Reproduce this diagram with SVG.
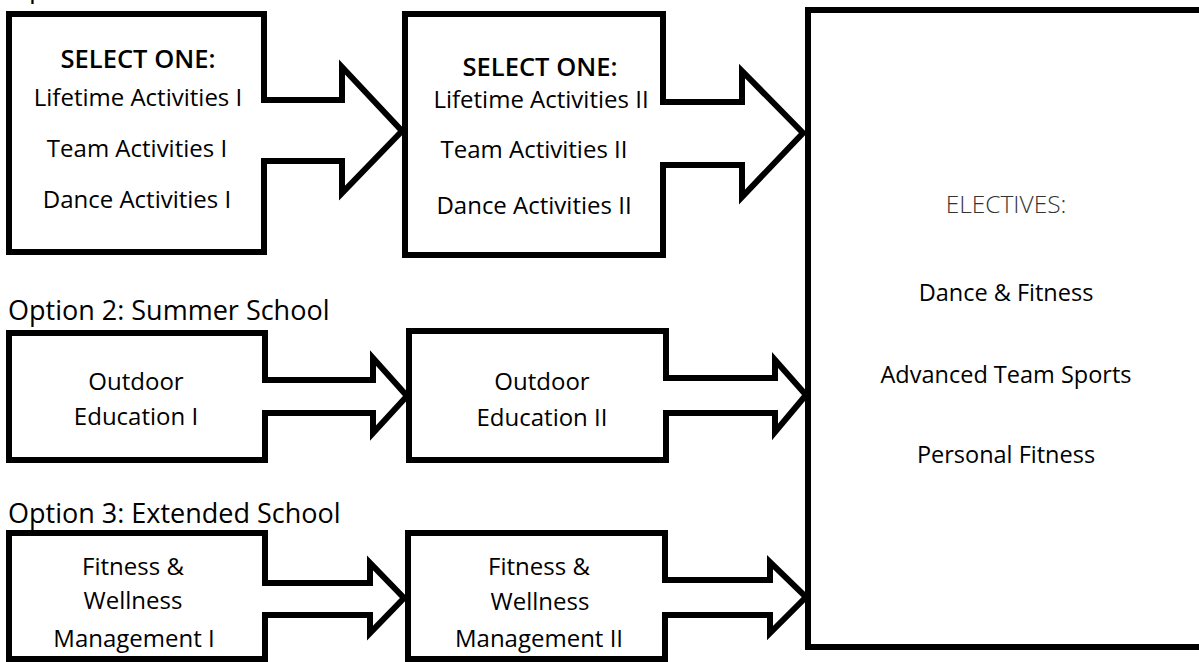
<svg xmlns="http://www.w3.org/2000/svg" width="1199" height="662" viewBox="0 0 1199 662">
<style>
.box{fill:#fff;stroke:#000;stroke-width:6}
.arr{fill:#fff;stroke:#000;stroke-width:6;stroke-linejoin:miter}
text{font-family:"Open Sans","Liberation Sans",sans-serif;font-size:24px;fill:#000;text-anchor:middle}
.lbl{font-size:27px;text-anchor:start}
.hd{font-weight:600;font-size:25.5px}
.el{font-weight:300;fill:#333;font-size:24.5px}
.it{font-size:23.5px}
</style>
<rect width="1199" height="662" fill="#fff"/>
<text class="lbl" x="8" y="-3">Option 1:</text>
<text class="lbl" x="8" y="320">Option 2: Summer School</text>
<text class="lbl" x="8" y="523">Option 3: Extended School</text>

<g id="n1">
<rect class="box" x="9" y="14" width="255" height="238"/>
<text class="hd" x="138" y="68">SELECT ONE:</text>
<text x="138" y="106">Lifetime Activities I</text>
<text x="137" y="157">Team Activities I</text>
<text x="137" y="208">Dance Activities I</text>
</g>
<g id="n2">
<rect class="box" x="405" y="14" width="258" height="241"/>
<text class="hd" x="540" y="76">SELECT ONE:</text>
<text x="541" y="108">Lifetime Activities II</text>
<text x="534" y="158">Team Activities II</text>
<text x="534" y="214">Dance Activities II</text>
</g>
<g id="n3">
<rect class="box" x="9" y="333" width="256" height="127"/>
<text x="136" y="390">Outdoor</text>
<text x="136" y="425">Education I</text>
</g>
<g id="n4">
<rect class="box" x="409" y="331" width="257" height="129"/>
<text x="542" y="390">Outdoor</text>
<text x="542" y="426">Education II</text>
</g>
<g id="n5">
<rect class="box" x="9" y="533" width="256" height="126"/>
<text x="133" y="575">Fitness &amp;</text>
<text x="133" y="609">Wellness</text>
<text x="134" y="647">Management I</text>
</g>
<g id="n6">
<rect class="box" x="408" y="533" width="257" height="126"/>
<text x="539" y="575">Fitness &amp;</text>
<text x="540" y="610">Wellness</text>
<text x="539" y="647">Management II</text>
</g>
<g id="n7">
<rect class="box" x="808" y="10" width="400" height="637"/>
<text class="el" x="1006" y="213">ELECTIVES:</text>
<text class="it" x="1006" y="301">Dance &amp; Fitness</text>
<text class="it" x="1006" y="383">Advanced Team Sports</text>
<text class="it" x="1006" y="463">Personal Fitness</text>
</g>

<g id="connectors">
<polyline class="arr" points="261,100 342,100 342,67 402,131 342,193 342,161 261,161"/>
<polyline class="arr" points="660,102 742,102 742,71 803,133 742,197 742,165 660,165"/>
<polyline class="arr" points="262,380 373,380 373,358 407,396 373,433 373,413 262,413"/>
<polyline class="arr" points="663,378 775,378 775,360 806,395 775,432 775,413 663,413"/>
<polyline class="arr" points="262,583 370,583 370,563 404,598 370,633 370,615 262,615"/>
<polyline class="arr" points="662,580 770,580 770,562 806,597 770,633 770,615 662,615"/>
</g>
</svg>
